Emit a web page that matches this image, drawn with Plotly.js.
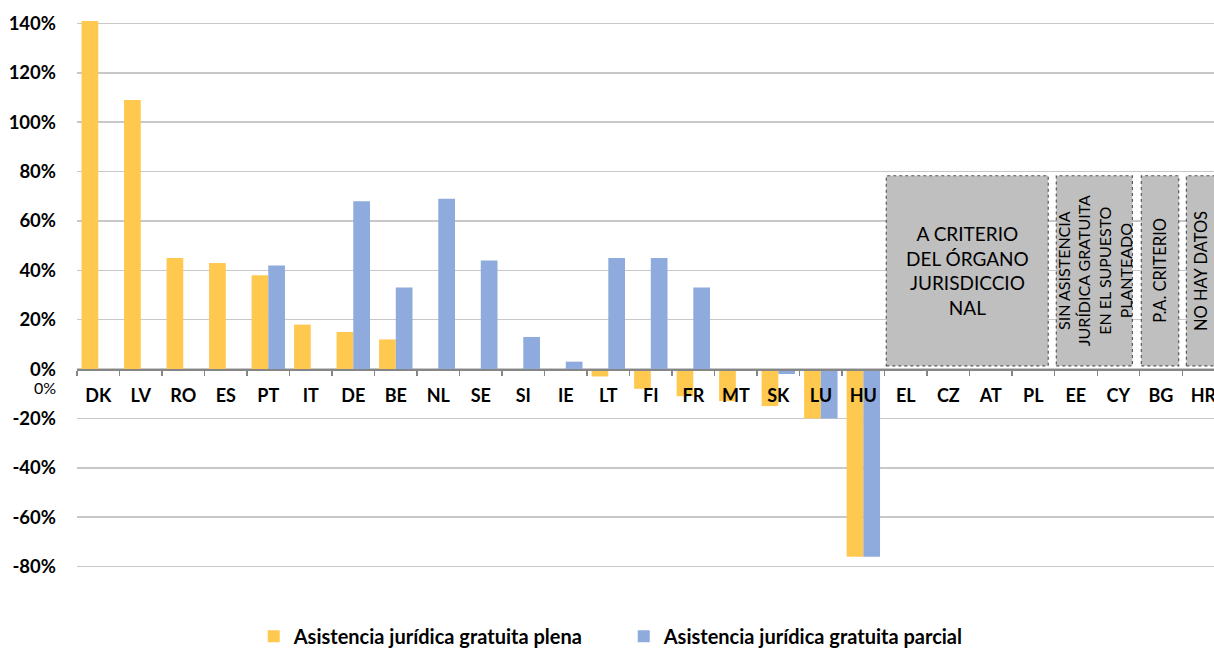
<!DOCTYPE html>
<html>
<head>
<meta charset="utf-8">
<script src="https://cdn.plot.ly/plotly-3.0.1.min.js"></script>
<style>html,body{margin:0;padding:0;background:#fff;}#chart{width:1214px;height:648px;}</style>
</head>
<body>
<div id="chart"></div>
<script>
const categories = ["DK","LV","RO","ES","PT","IT","DE","BE","NL","SE","SI","IE","LT","FI","FR","MT","SK","LU","HU","EL","CZ","AT","PL","EE","CY","BG","HR"];
const plena   = [141,109,45,43,38,18,15,12,null,null,null,null,-3,-8,-11,-13,-15,-20,-76,null,null,null,null,null,null,null,null];
const parcial = [null,null,null,null,42,null,68,33,69,44,13,3,45,45,33,null,-2,-20,-76,null,null,null,null,null,null,null,null];
const yTickValues = [140,120,100,80,60,40,20,0,-20,-40,-60,-80];
const yTickLabels = ["140%","120%","100%","80%","60%","40%","20%","0%","-20%","-40%","-60%","-80%"];
const seriesNames = ["Asistencia jurídica gratuita plena","Asistencia jurídica gratuita parcial"];
const boxTexts = ["A CRITERIO<br>DEL ÓRGANO<br>JURISDICCIO<br>NAL","SIN ASISTENCIA<br>JURÍDICA GRATUITA<br>EN EL SUPUESTO<br>PLANTEADO","P.A. CRITERIO","NO HAY DATOS"];

const FONT = "Lato, 'Noto Sans', sans-serif";
const orange = "#FFC84F";
const blue = "#8FAADC";

const traces = [
  {type:"bar", x:categories, y:plena, name:seriesNames[0], marker:{color:orange}, hoverinfo:"skip"},
  {type:"bar", x:categories, y:parcial, name:seriesNames[1], marker:{color:blue}, hoverinfo:"skip"}
];

const yMin = -81, yMax = 141;
const zeroPos = (0 - yMin) / (yMax - yMin);

function box(x0,x1){
  return {type:"rect", xref:"x", yref:"y", x0:x0, x1:x1, y0:1.3, y1:78.3,
    fillcolor:"#BFBFBF", line:{color:"#595959", width:1.2, dash:"dot"}, layer:"above"};
}

const layout = {
  width:1214, height:648,
  margin:{l:77, r:0, t:21, b:79, pad:0},
  paper_bgcolor:"#fff", plot_bgcolor:"#fff",
  font:{family:FONT, color:"#000"},
  barmode:"group", bargap:0.214, bargroupgap:0,
  showlegend:true,
  legend:{orientation:"h", xref:"container", yref:"container", x:0.209, xanchor:"left", y:0.018, yanchor:"middle",
    font:{family:FONT, size:20, weight:"bold", color:"#000"}, itemwidth:30, entrywidth:325, traceorder:"normal", tracegroupgap:0},
  xaxis:{type:"category", range:[-0.5, 26.25], anchor:"free", position:zeroPos,
    showline:true, linecolor:"#868686", linewidth:1.5, showgrid:false, zeroline:false,
    ticks:"outside", tickson:"boundaries", ticklen:5, tickcolor:"#868686", tickwidth:1.2,
    tickfont:{family:FONT, size:18, weight:"bold", color:"#000"}, ticklabelstandoff:10, fixedrange:true},
  yaxis:{range:[yMin, yMax], tickvals:yTickValues, ticktext:yTickLabels,
    showgrid:true, gridcolor:"#C8C8C8", gridwidth:1.5, zeroline:false, showline:false, ticks:"",
    tickfont:{family:FONT, size:18.5, weight:"bold", color:"#000"}, ticklabelstandoff:20, fixedrange:true},
  shapes:[box(18.54,22.35), box(22.54,24.33), box(24.54,25.42), box(25.60,26.6)],
  annotations:[
    {xref:"x", yref:"y", x:20.445, y:39.8, text:boxTexts[0], showarrow:false, font:{family:FONT, size:19, color:"#000"}, align:"center"},
    {xref:"x", yref:"y", x:23.435, y:39.8, text:boxTexts[1], showarrow:false, textangle:-90, font:{family:FONT, size:16, color:"#000"}, align:"center"},
    {xref:"x", yref:"y", x:24.98, y:39.8, text:boxTexts[2], showarrow:false, textangle:-90, font:{family:FONT, size:16.5, color:"#000"}, align:"center"},
    {xref:"x", yref:"y", x:25.95, y:39.8, text:boxTexts[3], showarrow:false, textangle:-90, font:{family:FONT, size:16.5, color:"#000"}, align:"center"},
    {xref:"paper", yref:"y", x:0, y:0, xshift:-19, yshift:-18, xanchor:"right", text:yTickLabels[7], showarrow:false, font:{family:FONT, size:16, color:"#000"}}
  ]
};

Plotly.newPlot("chart", traces, layout, {displayModeBar:false, staticPlot:true});
</script>
</body>
</html>
